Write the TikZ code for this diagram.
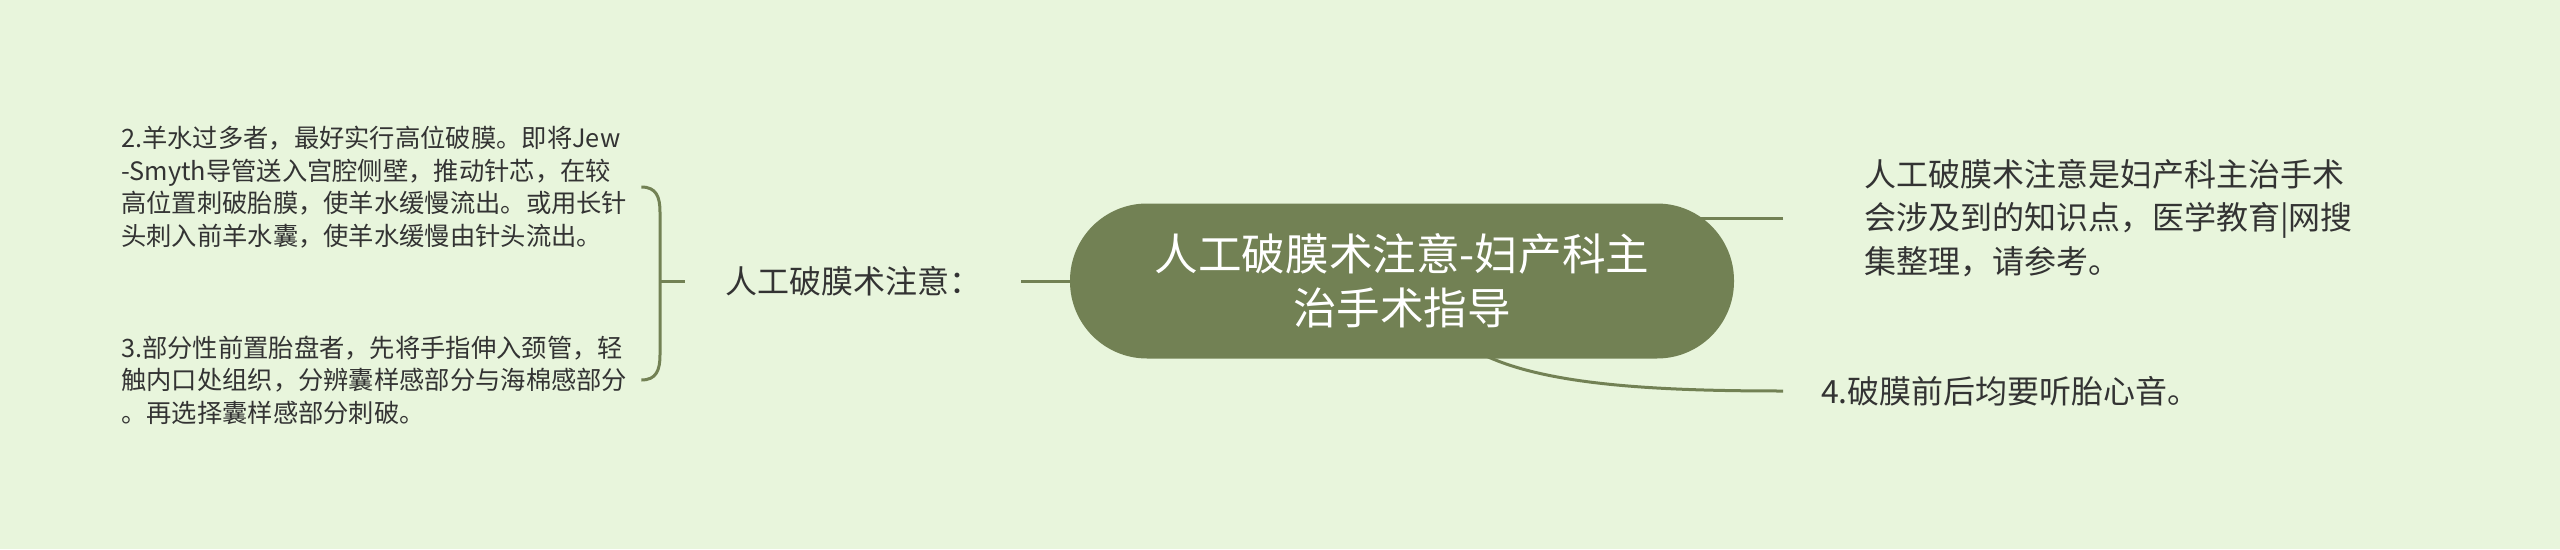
\documentclass[tikz,border=0pt]{standalone}
\usepackage{fontspec}
\newfontfamily\cjk{Noto Sans CJK SC}
\usetikzlibrary{calc}
\definecolor{bgc}{RGB}{232,245,220}
\definecolor{olivec}{RGB}{114,129,84}
\definecolor{txtc}{RGB}{51,51,51}
\pgfdeclarelayer{back}
\pgfdeclarelayer{bg}
\pgfsetlayers{back,bg,main}
\begin{document}
\begin{tikzpicture}[x=1pt,y=-1pt,
  conn/.style={draw=olivec,line width=3pt},
  root/.style={rectangle, rounded corners=77pt, fill=olivec, text=white, minimum width=664pt, minimum height=155pt, inner sep=0pt, align=center, font=\cjk\fontsize{43.6}{54}\selectfont},
  lvone/.style={text=txtc, inner xsep=40pt, inner ysep=4pt, align=left, font=\cjk\fontsize{32}{43.5}\selectfont},
  lvtwo/.style={text=txtc, inner xsep=14pt, inner ysep=4pt, align=left, font=\cjk\fontsize{25.3}{32.5}\selectfont}]
\useasboundingbox (0,0) rectangle (2560,549);
\begin{pgfonlayer}{back}
\fill[bgc] (0,0) rectangle (2560,549);
\end{pgfonlayer}
\node[root] (C) at (1402,281) {人工破膜术注意-妇产科主\\治手术指导};
\node[lvone, anchor=west] (L) at (685,281) {人工破膜术注意：};
\node[lvtwo, anchor=west] (B1) at (107,187) {2.羊水过多者，最好实行高位破膜。即将Jew\\-Smyth导管送入宫腔侧壁，推动针芯，在较\\高位置刺破胎膜，使羊水缓慢流出。或用长针\\头刺入前羊水囊，使羊水缓慢由针头流出。};
\node[lvtwo, anchor=west] (B2) at (107,380) {3.部分性前置胎盘者，先将手指伸入颈管，轻\\触内口处组织，分辨囊样感部分与海棉感部分\\。再选择囊样感部分刺破。};
\node[lvone, anchor=west, inner xsep=81pt] (R1) at (1783,218) {人工破膜术注意是妇产科主治手术\\会涉及到的知识点，医学教育|网搜\\集整理，请参考。};
\node[lvone, anchor=west, inner xsep=38pt] (R2) at (1783,391) {4.破膜前后均要听胎心音。};
\coordinate (br) at ($(L.west)+(-25,0)$);
\begin{pgfonlayer}{bg}
\draw[conn] (L.east) -- (C.center);
\draw[conn] (R1.west) -- (R1.west -| C.center);
\draw[conn] ($(C.south)+(70,-10)$) .. controls +(60,35) and +(-140,0) .. (R2.west);
\draw[conn] (br) -- (L.west);
\draw[conn] (B1.east) .. controls +(15,0) and +(0,-15) .. ($(B1.east -| br)+(0,25)$) -- ($(B2.east -| br)+(0,-25)$) .. controls +(0,15) and +(15,0) .. (B2.east);
\end{pgfonlayer}
\end{tikzpicture}
\end{document}
